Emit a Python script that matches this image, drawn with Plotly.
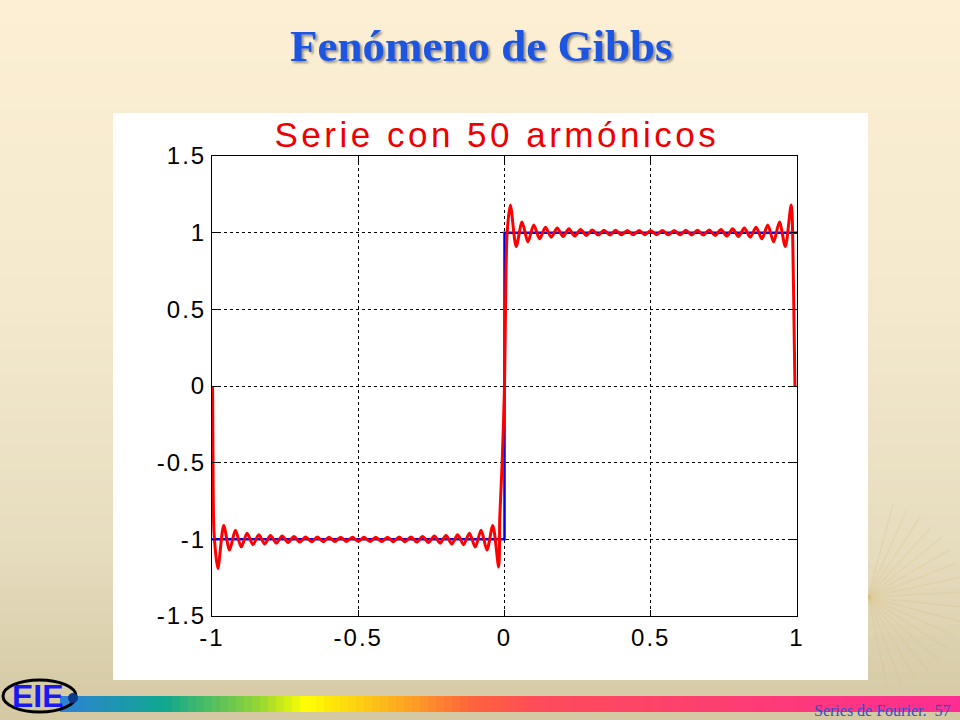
import math
import plotly.graph_objects as go

# ---------------- data ----------------
SQUARE_X = [-1.0, 0.0, 0.0, 1.0]
SQUARE_Y = [-1.0, -1.0, 1.0, 1.0]

RED_X_NEG = [-0.998, -0.996, -0.993,
             -0.98, -0.96, -0.94, -0.92, -0.90, -0.88, -0.86, -0.84, -0.82, -0.80,
             -0.78, -0.76, -0.74, -0.72, -0.70, -0.68, -0.66, -0.64, -0.62, -0.60,
             -0.58, -0.56, -0.54, -0.52, -0.50, -0.48, -0.46, -0.44, -0.42, -0.40,
             -0.38, -0.36, -0.34, -0.32, -0.30, -0.28, -0.26, -0.24, -0.22, -0.20,
             -0.18, -0.16, -0.14, -0.12, -0.10, -0.08, -0.06, -0.04, -0.02,
             -0.016, -0.008]
RED_Y_NEG = [0.0, -0.66, -0.96,
             -1.19, -0.91, -1.07, -0.94, -1.05, -0.96, -1.035, -0.97, -1.03, -0.975,
             -1.025, -0.978, -1.02, -0.982, -1.018, -0.984, -1.016, -0.985, -1.015, -0.986,
             -1.014, -0.986, -1.014, -0.987, -1.013, -0.987, -1.014, -0.986, -1.014, -0.986,
             -1.015, -0.985, -1.016, -0.984, -1.018, -0.982, -1.02, -0.978, -1.025, -0.975,
             -1.03, -0.97, -1.035, -0.96, -1.05, -0.94, -1.07, -0.91, -1.18,
             -0.85, -0.5]

RED_X_POS = [0.0, 0.004, 0.009,
             0.02, 0.04, 0.06, 0.08, 0.10, 0.12, 0.14, 0.16, 0.18, 0.20,
             0.22, 0.24, 0.26, 0.28, 0.30, 0.32, 0.34, 0.36, 0.38, 0.40,
             0.42, 0.44, 0.46, 0.48, 0.50, 0.52, 0.54, 0.56, 0.58, 0.60,
             0.62, 0.64, 0.66, 0.68, 0.70, 0.72, 0.74, 0.76, 0.78, 0.80,
             0.82, 0.84, 0.86, 0.88, 0.90, 0.92, 0.94, 0.96, 0.98,
             0.988, 0.993]
RED_Y_POS = [0.0, 0.6, 1.0,
             1.18, 0.91, 1.07, 0.94, 1.05, 0.96, 1.035, 0.97, 1.03, 0.975,
             1.025, 0.978, 1.02, 0.982, 1.018, 0.984, 1.016, 0.985, 1.015, 0.986,
             1.014, 0.986, 1.014, 0.987, 1.013, 0.987, 1.014, 0.986, 1.014, 0.986,
             1.015, 0.985, 1.016, 0.984, 1.018, 0.982, 1.02, 0.978, 1.025, 0.975,
             1.03, 0.97, 1.035, 0.96, 1.05, 0.94, 1.07, 0.91, 1.18,
             0.65, 0.0]

X_TICKS = [-1, -0.5, 0, 0.5, 1]
X_TICK_LABELS = ["-1", "-0.5", "0", "0.5", "1"]
Y_TICKS = [-1.5, -1, -0.5, 0, 0.5, 1, 1.5]
Y_TICK_LABELS = ["-1.5", "-1", "-0.5", "0", "0.5", "1", "1.5"]

SLIDE_TITLE = "Fenómeno de Gibbs"
PLOT_TITLE = "Serie con 50 armónicos"
FOOTER = "Series de Fourier.  57"
LOGO = "EIE"

# ---------------- layout geometry (pixels) ----------------
W, H = 960, 720
L, R, T, B = 212, 797, 156, 616


def px(x):
    return (x - L) / (R - L)


def py(y):
    return (B - y) / (B - T)


def lerp(c1, c2, t):
    return tuple(int(round(a + (b - a) * t)) for a, b in zip(c1, c2))


def grad(stops, pos):
    for (p0, c0), (p1, c1) in zip(stops, stops[1:]):
        if p0 <= pos <= p1:
            return lerp(c0, c1, (pos - p0) / (p1 - p0) if p1 > p0 else 0)
    return stops[-1][1]


shapes = []
# slide background: vertical gradient bands
bg_stops = [(0, (252, 239, 212)), (300, (244, 233, 205)), (550, (230, 220, 190)), (720, (212, 200, 162))]
step = 12
for y0 in range(0, H, step):
    c = grad(bg_stops, y0 + step / 2)
    shapes.append(dict(type="rect", xref="paper", yref="paper", layer="below",
                       x0=px(0), x1=px(W), y0=py(y0 + step + 1), y1=py(y0),
                       fillcolor="rgb(%d,%d,%d)" % c, line=dict(width=0)))

# faint sunburst rays at right
cx, cy = 868, 597
for a in range(-75, 80, 9):
    ang = math.radians(a)
    shapes.append(dict(type="line", xref="paper", yref="paper", layer="below",
                       x0=px(cx), y0=py(cy),
                       x1=px(cx + 95 * math.cos(ang)), y1=py(cy + 95 * math.sin(ang)),
                       line=dict(color="rgba(215,185,110,0.2)", width=1.5)))

# white figure panel
shapes.append(dict(type="rect", xref="paper", yref="paper", layer="below",
                   x0=px(113), x1=px(868), y0=py(680), y1=py(113),
                   fillcolor="white", line=dict(width=0)))

# rainbow bar at bottom
rb_stops = [(60, (47, 128, 216)), (165, (16, 168, 144)), (260, (150, 214, 50)),
            (305, (255, 255, 0)), (400, (255, 170, 30)), (470, (255, 100, 60)),
            (540, (255, 75, 90)), (960, (255, 45, 145))]
bstep = 8
for x0 in range(60, W, bstep):
    c = grad(rb_stops, x0 + bstep / 2)
    shapes.append(dict(type="rect", xref="paper", yref="paper", layer="below",
                       x0=px(x0), x1=px(min(x0 + bstep + 1, W)), y0=py(712), y1=py(696),
                       fillcolor="rgb(%d,%d,%d)" % c, line=dict(width=0)))

# logo ellipse
shapes.append(dict(type="circle", xref="paper", yref="paper", layer="above",
                   x0=px(3), x1=px(76), y0=py(712), y1=py(680),
                   line=dict(color="black", width=3)))
shapes.append(dict(type="circle", xref="paper", yref="paper", layer="above",
                   x0=px(68), x1=px(78), y0=py(703), y1=py(693),
                   fillcolor="#0a3a8a", line=dict(width=0)))

annotations = [
    # slide title
    dict(text="<b>%s</b>" % SLIDE_TITLE, x=px(481), y=py(46), xref="paper", yref="paper",
         showarrow=False, xanchor="center", yanchor="middle",
         font=dict(family="Liberation Serif", size=45, color="#1a55e0")),
    # plot title
    dict(text=PLOT_TITLE, x=px(497), y=py(134), xref="paper", yref="paper",
         showarrow=False, xanchor="center", yanchor="middle",
         font=dict(family="Liberation Sans", size=35, color="#ee0000")),
    # footer
    dict(text=FOOTER, x=px(952), y=py(710), xref="paper", yref="paper",
         showarrow=False, xanchor="right", yanchor="middle",
         font=dict(family="Liberation Serif", size=16, color="#3050d0")),
    # logo letters
    dict(text="<b>%s</b>" % LOGO, x=px(38), y=py(696), xref="paper", yref="paper",
         showarrow=False, xanchor="center", yanchor="middle",
         font=dict(family="Liberation Sans", size=32, color="#1a1af0")),
]

fig = go.Figure()
fig.add_trace(go.Scatter(x=SQUARE_X, y=SQUARE_Y, mode="lines",
                         line=dict(color="#0000e6", width=2.5), showlegend=False,
                         hoverinfo="skip"))
fig.add_trace(go.Scatter(x=RED_X_NEG + RED_X_POS, y=RED_Y_NEG + RED_Y_POS, mode="lines",
                         line=dict(color="#ff0000", width=3, shape="spline", smoothing=0.8),
                         showlegend=False, hoverinfo="skip"))

axis_common = dict(showline=True, linecolor="black", linewidth=1, mirror="ticks",
                   ticks="inside", ticklen=6, tickcolor="black",
                   showgrid=True, gridcolor="black", gridwidth=1, griddash="3px,3px",
                   zeroline=False,
                   tickfont=dict(family="Liberation Sans", size=24, color="black"))

fig.update_xaxes(range=[-1, 1], tickvals=X_TICKS, ticktext=X_TICK_LABELS, **axis_common)
fig.update_yaxes(range=[-1.5, 1.5], tickvals=Y_TICKS, ticktext=Y_TICK_LABELS, **axis_common)

fig.update_layout(width=W, height=H, autosize=False,
                  margin=dict(l=L, r=W - R, t=T, b=H - B, pad=0),
                  paper_bgcolor="rgb(240,230,205)", plot_bgcolor="white",
                  shapes=shapes, annotations=annotations, showlegend=False)

post = """
document.body.style.margin = '0';
document.body.style.padding = '0';
document.body.style.overflow = 'hidden';
var NS = 'http://www.w3.org/2000/svg';
var svgs = document.querySelectorAll('svg.main-svg');
var host = svgs[svgs.length - 1];
var defs = host.querySelector('defs') || host.insertBefore(document.createElementNS(NS, 'defs'), host.firstChild);
var f = document.createElementNS(NS, 'filter');
f.setAttribute('id', 'titleShadow');
f.setAttribute('x', '-10%'); f.setAttribute('y', '-30%');
f.setAttribute('width', '120%'); f.setAttribute('height', '160%');
var ds = document.createElementNS(NS, 'feDropShadow');
ds.setAttribute('dx', '2'); ds.setAttribute('dy', '2'); ds.setAttribute('stdDeviation', '0.8');
ds.setAttribute('flood-color', '#404040'); ds.setAttribute('flood-opacity', '0.55');
f.appendChild(ds); defs.appendChild(f);
document.querySelectorAll('.annotation-text').forEach(function(t){
  if (t.textContent.indexOf('Serie con') === 0) { t.setAttribute('letter-spacing', '3.5px'); }
  if (t.textContent.indexOf('Fen') === 0) { t.setAttribute('filter', 'url(#titleShadow)'); }
});
document.querySelectorAll('.xtick text, .ytick text').forEach(function(t){
  t.setAttribute('letter-spacing', '2px');
});
"""

fig.write_html("out.html", post_script=post, config={"displayModeBar": False, "staticPlot": True})
